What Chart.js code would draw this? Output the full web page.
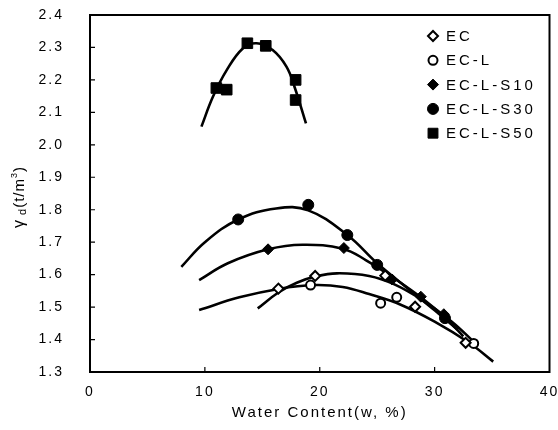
<!DOCTYPE html>
<html>
<head>
<meta charset="utf-8">
<script src="https://cdn.jsdelivr.net/npm/chart.js@4.4.0/dist/chart.umd.min.js"></script>
<style>
html,body{margin:0;padding:0;background:#fff;}
#wrap{width:558px;height:430px;}
</style>
</head>
<body>
<div id="wrap"><canvas id="chart" width="558" height="430"></canvas></div>
<script>
// measured points: water content (%) and dry unit weight (t/m3)
var seriesNames=["EC","EC-L","EC-L-S10","EC-L-S30","EC-L-S50"];
var ecW=[16.4,19.6,25.7,28.3,32.7];
var ecG=[1.557,1.596,1.597,1.501,1.390];
var eclW=[19.2,25.3,26.7,33.4];
var eclG=[1.568,1.512,1.530,1.388];
var s10W=[15.5,22.1,26.3,28.8,30.8];
var s10G=[1.678,1.682,1.585,1.532,1.478];
var s30W=[12.9,19.0,22.4,25.0,30.9];
var s30G=[1.770,1.815,1.722,1.630,1.466];
var s50W=[11.0,11.9,13.7,15.3,17.9,17.9];
var s50G=[2.175,2.170,2.313,2.305,2.200,2.138];

// compaction curves
var ecCurveW=[14.6,16.4,18.0,19.6,21.5,24.3,26.5,29.0,31.5,33.5];
var ecCurveG=[1.496,1.545,1.575,1.594,1.604,1.596,1.570,1.520,1.455,1.390];
var eclCurveW=[9.5,13.0,16.4,19.5,22.0,24.3,27.0,30.0,33.0,35.1];
var eclCurveG=[1.491,1.530,1.556,1.568,1.562,1.540,1.508,1.455,1.390,1.332];
var s10CurveW=[9.5,12.0,15.5,18.5,22.0,24.0,26.5,29.0,31.0,32.5];
var s10CurveG=[1.583,1.635,1.678,1.692,1.680,1.645,1.588,1.525,1.465,1.410];
var s30CurveW=[7.95,10.0,12.9,16.2,19.0,22.4,25.0,27.5,30.0,32.0];
var s30CurveG=[1.624,1.700,1.770,1.804,1.798,1.722,1.635,1.562,1.490,1.430];
var s50CurveW=[9.7,10.7,11.9,13.3,14.5,15.9,17.1,17.8,18.8];
var s50CurveG=[2.056,2.148,2.230,2.297,2.313,2.292,2.241,2.179,2.066];

// axis ticks
var xTicks=[0,10,20,30,40];
var yTicks=[1.3,1.4,1.5,1.6,1.7,1.8,1.9,2.0,2.1,2.2,2.3,2.4];

function pts(xs,ys){
    var out=[];
    for(var i=0;i<xs.length;i++){
        out.push({x:xs[i],y:ys[i]});
    }
    return out;
}

//marker styles for each series, same order as seriesNames
var markerStyle=[
    {pointStyle:"rectRot",radius:5,fill:"#fff",bw:2},
    {pointStyle:"circle",radius:4.5,fill:"#fff",bw:2},
    {pointStyle:"rectRot",radius:5.5,fill:"#000",bw:1},
    {pointStyle:"circle",radius:5.5,fill:"#000",bw:1},
    {pointStyle:"rect",radius:7.5,fill:"#000",bw:1}
];

function markerSet(i,xs,ys){
    var m=markerStyle[i];
    return {
        label:seriesNames[i],
        data:pts(xs,ys),
        showLine:false,
        pointStyle:m.pointStyle,
        pointRadius:m.radius,
        pointBackgroundColor:m.fill,
        pointBorderColor:"#000",
        pointBorderWidth:m.bw,
        order:0
    };
}

function curveSet(xs,ys){
    return {
        label:"",
        data:pts(xs,ys),
        showLine:true,
        pointRadius:0,
        borderColor:"#000",
        borderWidth:2.6,
        tension:0.4,
        fill:false,
        order:1
    };
}

var datasets=[
    markerSet(0,ecW,ecG),
    markerSet(1,eclW,eclG),
    markerSet(2,s10W,s10G),
    markerSet(3,s30W,s30G),
    markerSet(4,s50W,s50G),
    curveSet(ecCurveW,ecCurveG),
    curveSet(eclCurveW,eclCurveG),
    curveSet(s10CurveW,s10CurveG),
    curveSet(s30CurveW,s30CurveG),
    curveSet(s50CurveW,s50CurveG)
];

var FONT="'Liberation Sans', Arial, sans-serif";

//frame, inner ticks, y title and legend
var decor={
    id:"decor",
    beforeDraw:function(chart){
        chart.ctx.letterSpacing="2px";
    },
    afterDraw:function(chart){
        var ctx=chart.ctx;
        var a=chart.chartArea;
        var xs=chart.scales.x, ys=chart.scales.y;
        ctx.save();
        ctx.strokeStyle="#000";
        ctx.lineWidth=2;
        ctx.strokeRect(a.left,a.top,a.right-a.left,a.bottom-a.top);
        ctx.lineWidth=1.2;
        ctx.beginPath();
        for(var i=1;i<xTicks.length-1;i++){
            var px=xs.getPixelForValue(xTicks[i]);
            ctx.moveTo(px,a.bottom);ctx.lineTo(px,a.bottom-5);
        }
        for(var j=1;j<yTicks.length-1;j++){
            var py=ys.getPixelForValue(yTicks[j]);
            ctx.moveTo(a.left,py);ctx.lineTo(a.left+5,py);
        }
        ctx.stroke();

        // y title: gamma d (t/m3)
        ctx.fillStyle="#000";
        ctx.letterSpacing="1px";
        ctx.translate(20,197);
        ctx.rotate(-Math.PI/2);
        ctx.textBaseline="middle";
        ctx.textAlign="left";
        var parts=[["\u03b3","16px",0],[" d","11px",3],["(t/m","15px",0],["3","9px",-5],[")","15px",0]];
        var total=0;
        parts.forEach(function(p){ctx.font=p[1]+" "+FONT;total+=ctx.measureText(p[0]).width;});
        var cx=-total/2;
        parts.forEach(function(p){
            ctx.font=p[1]+" "+FONT;
            ctx.fillText(p[0],cx,p[2]);
            cx+=ctx.measureText(p[0]).width;
        });
        ctx.restore();

        // legend
        ctx.save();
        ctx.letterSpacing="3px";
        ctx.font="15px "+FONT;
        ctx.textBaseline="middle";
        ctx.textAlign="left";
        for(var k=0;k<seriesNames.length;k++){
            var ly=36+k*24.3;
            var m=markerStyle[k];
            ctx.fillStyle=m.fill;
            ctx.strokeStyle="#000";
            ctx.lineWidth=m.bw;
            var r=m.radius;
            if(k==4){r=7;}
            Chart.helpers.drawPoint(ctx,{pointStyle:m.pointStyle,radius:r,rotation:0,borderWidth:m.bw},433,ly);
            ctx.fillStyle="#000";
            ctx.fillText(seriesNames[k],446,ly+1);
        }
        ctx.restore();
    }
};

var chart=new Chart(document.getElementById("chart"),{
    type:"scatter",
    data:{datasets:datasets},
    options:{
        responsive:false,
        animation:false,
        devicePixelRatio:1,
        layout:{padding:{top:15,right:7,left:0,bottom:0}},
        plugins:{legend:{display:false},tooltip:{enabled:false}},
        scales:{
            x:{
                type:"linear",
                min:0,max:40,
                afterBuildTicks:function(s){s.ticks=xTicks.map(function(v){return {value:v};});},
                afterFit:function(s){s.height=58;s.paddingLeft=0;s.paddingRight=0;},
                grid:{display:false,drawTicks:false},
                border:{display:false},
                ticks:{color:"#000",font:{family:FONT,size:14},padding:12,maxRotation:0},
                title:{display:true,text:"Water Content(w, %)",color:"#000",font:{family:FONT,size:15},padding:{top:0,bottom:8}}
            },
            y:{
                type:"linear",
                min:1.3,max:2.4,
                afterBuildTicks:function(s){s.ticks=yTicks.map(function(v){return {value:v};});},
                afterFit:function(s){s.width=90;s.paddingTop=0;s.paddingBottom=0;},
                grid:{display:false,drawTicks:false},
                border:{display:false},
                ticks:{color:"#000",font:{family:FONT,size:14},padding:26,callback:function(v){return v.toFixed(1);}}
            }
        }
    },
    plugins:[decor]
});
</script>
</body>
</html>
